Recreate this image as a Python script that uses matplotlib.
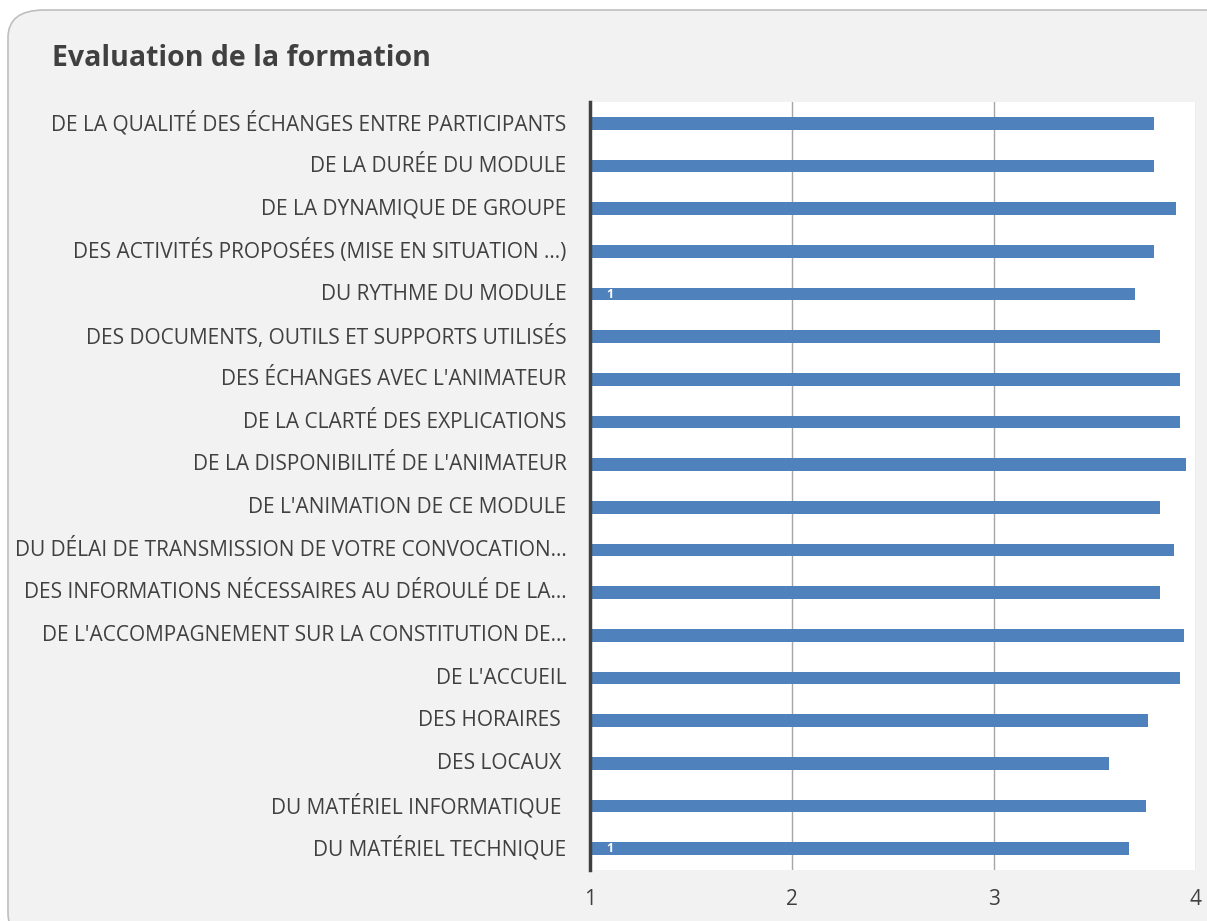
import numpy as np
import matplotlib.pyplot as plt
from matplotlib.patches import FancyBboxPatch

categories = [
    "DE LA QUALITÉ DES ÉCHANGES ENTRE PARTICIPANTS",
    "DE LA DURÉE DU MODULE",
    "DE LA DYNAMIQUE DE GROUPE",
    "DES ACTIVITÉS PROPOSÉES (MISE EN SITUATION …)",
    "DU RYTHME DU MODULE",
    "DES DOCUMENTS, OUTILS ET SUPPORTS UTILISÉS",
    "DES ÉCHANGES AVEC L'ANIMATEUR",
    "DE LA CLARTÉ DES EXPLICATIONS",
    "DE LA DISPONIBILITÉ DE L'ANIMATEUR",
    "DE L'ANIMATION DE CE MODULE",
    "DU DÉLAI DE TRANSMISSION DE VOTRE CONVOCATION…",
    "DES INFORMATIONS NÉCESSAIRES AU DÉROULÉ DE LA…",
    "DE L'ACCOMPAGNEMENT SUR LA CONSTITUTION DE…",
    "DE L'ACCUEIL",
    "DES HORAIRES ",
    "DES LOCAUX ",
    "DU MATÉRIEL INFORMATIQUE ",
    "DU MATÉRIEL TECHNIQUE",
]
notes = [3.79, 3.79, 3.90, 3.79, 3.70, 3.82, 3.92, 3.92, 3.95,
         3.82, 3.89, 3.82, 3.94, 3.92, 3.76, 3.57, 3.75, 3.67]
# petites etiquettes "1" visibles sur deux barres
etiquettes = {"DU RYTHME DU MODULE": "1", "DU MATÉRIEL TECHNIQUE": "1"}

plt.rcParams['font.family'] = ['Open Sans', 'DejaVu Sans']

fig = plt.figure(figsize=(12.07, 9.21), dpi=100)
fig.patch.set_facecolor('white')

W, H = 1207, 921
cadre = FancyBboxPatch((8 / W, -20 / H), (1240 - 8) / W, (911 + 20) / H,
                       boxstyle="round,pad=0,rounding_size=0.03",
                       transform=fig.transFigure, facecolor='#f2f2f2',
                       edgecolor='#bfbfbf', linewidth=1.2, zorder=-1)
fig.patches.append(cadre)

fig.text(52 / W, 1 - 58 / H, "Evaluation de la formation", fontsize=20.5,
         fontweight='bold', color='#404040', va='center', ha='left')

ax = fig.add_axes([590 / W, 1 - 870 / H, (1196 - 590) / W, (870 - 102) / H])
ax.set_zorder(2)
ax.set_facecolor('white')

y = np.arange(len(categories))
ax.barh(y, notes, height=0.29, color='#4f81bd', zorder=3)
for i, (cat, v) in enumerate(zip(categories, notes)):
    if cat in etiquettes:
        ax.text(1.1, i, etiquettes[cat], color='white', fontsize=9,
                fontweight='bold', ha='center', va='center', zorder=4)

ax.set_xlim(1, 4)
ax.set_ylim(len(categories) - 0.5, -0.5)
ax.set_xticks([1, 2, 3, 4])
ax.set_yticks(y)
ax.set_yticklabels(categories, va='center')
ax.grid(axis='x', color='#a6a6a6', linewidth=1, zorder=0)
ax.tick_params(axis='y', length=0, pad=17, labelsize=15, labelcolor='#404040')
ax.tick_params(axis='x', length=0, pad=14, labelsize=15, labelcolor='#404040')
for s in ['top', 'right', 'bottom']:
    ax.spines[s].set_visible(False)
ax.spines['left'].set_color('#404040')
ax.spines['left'].set_linewidth(2.5)
ax.spines['left'].set_zorder(5)

fig.savefig('out.png', dpi=100, facecolor=fig.get_facecolor())
